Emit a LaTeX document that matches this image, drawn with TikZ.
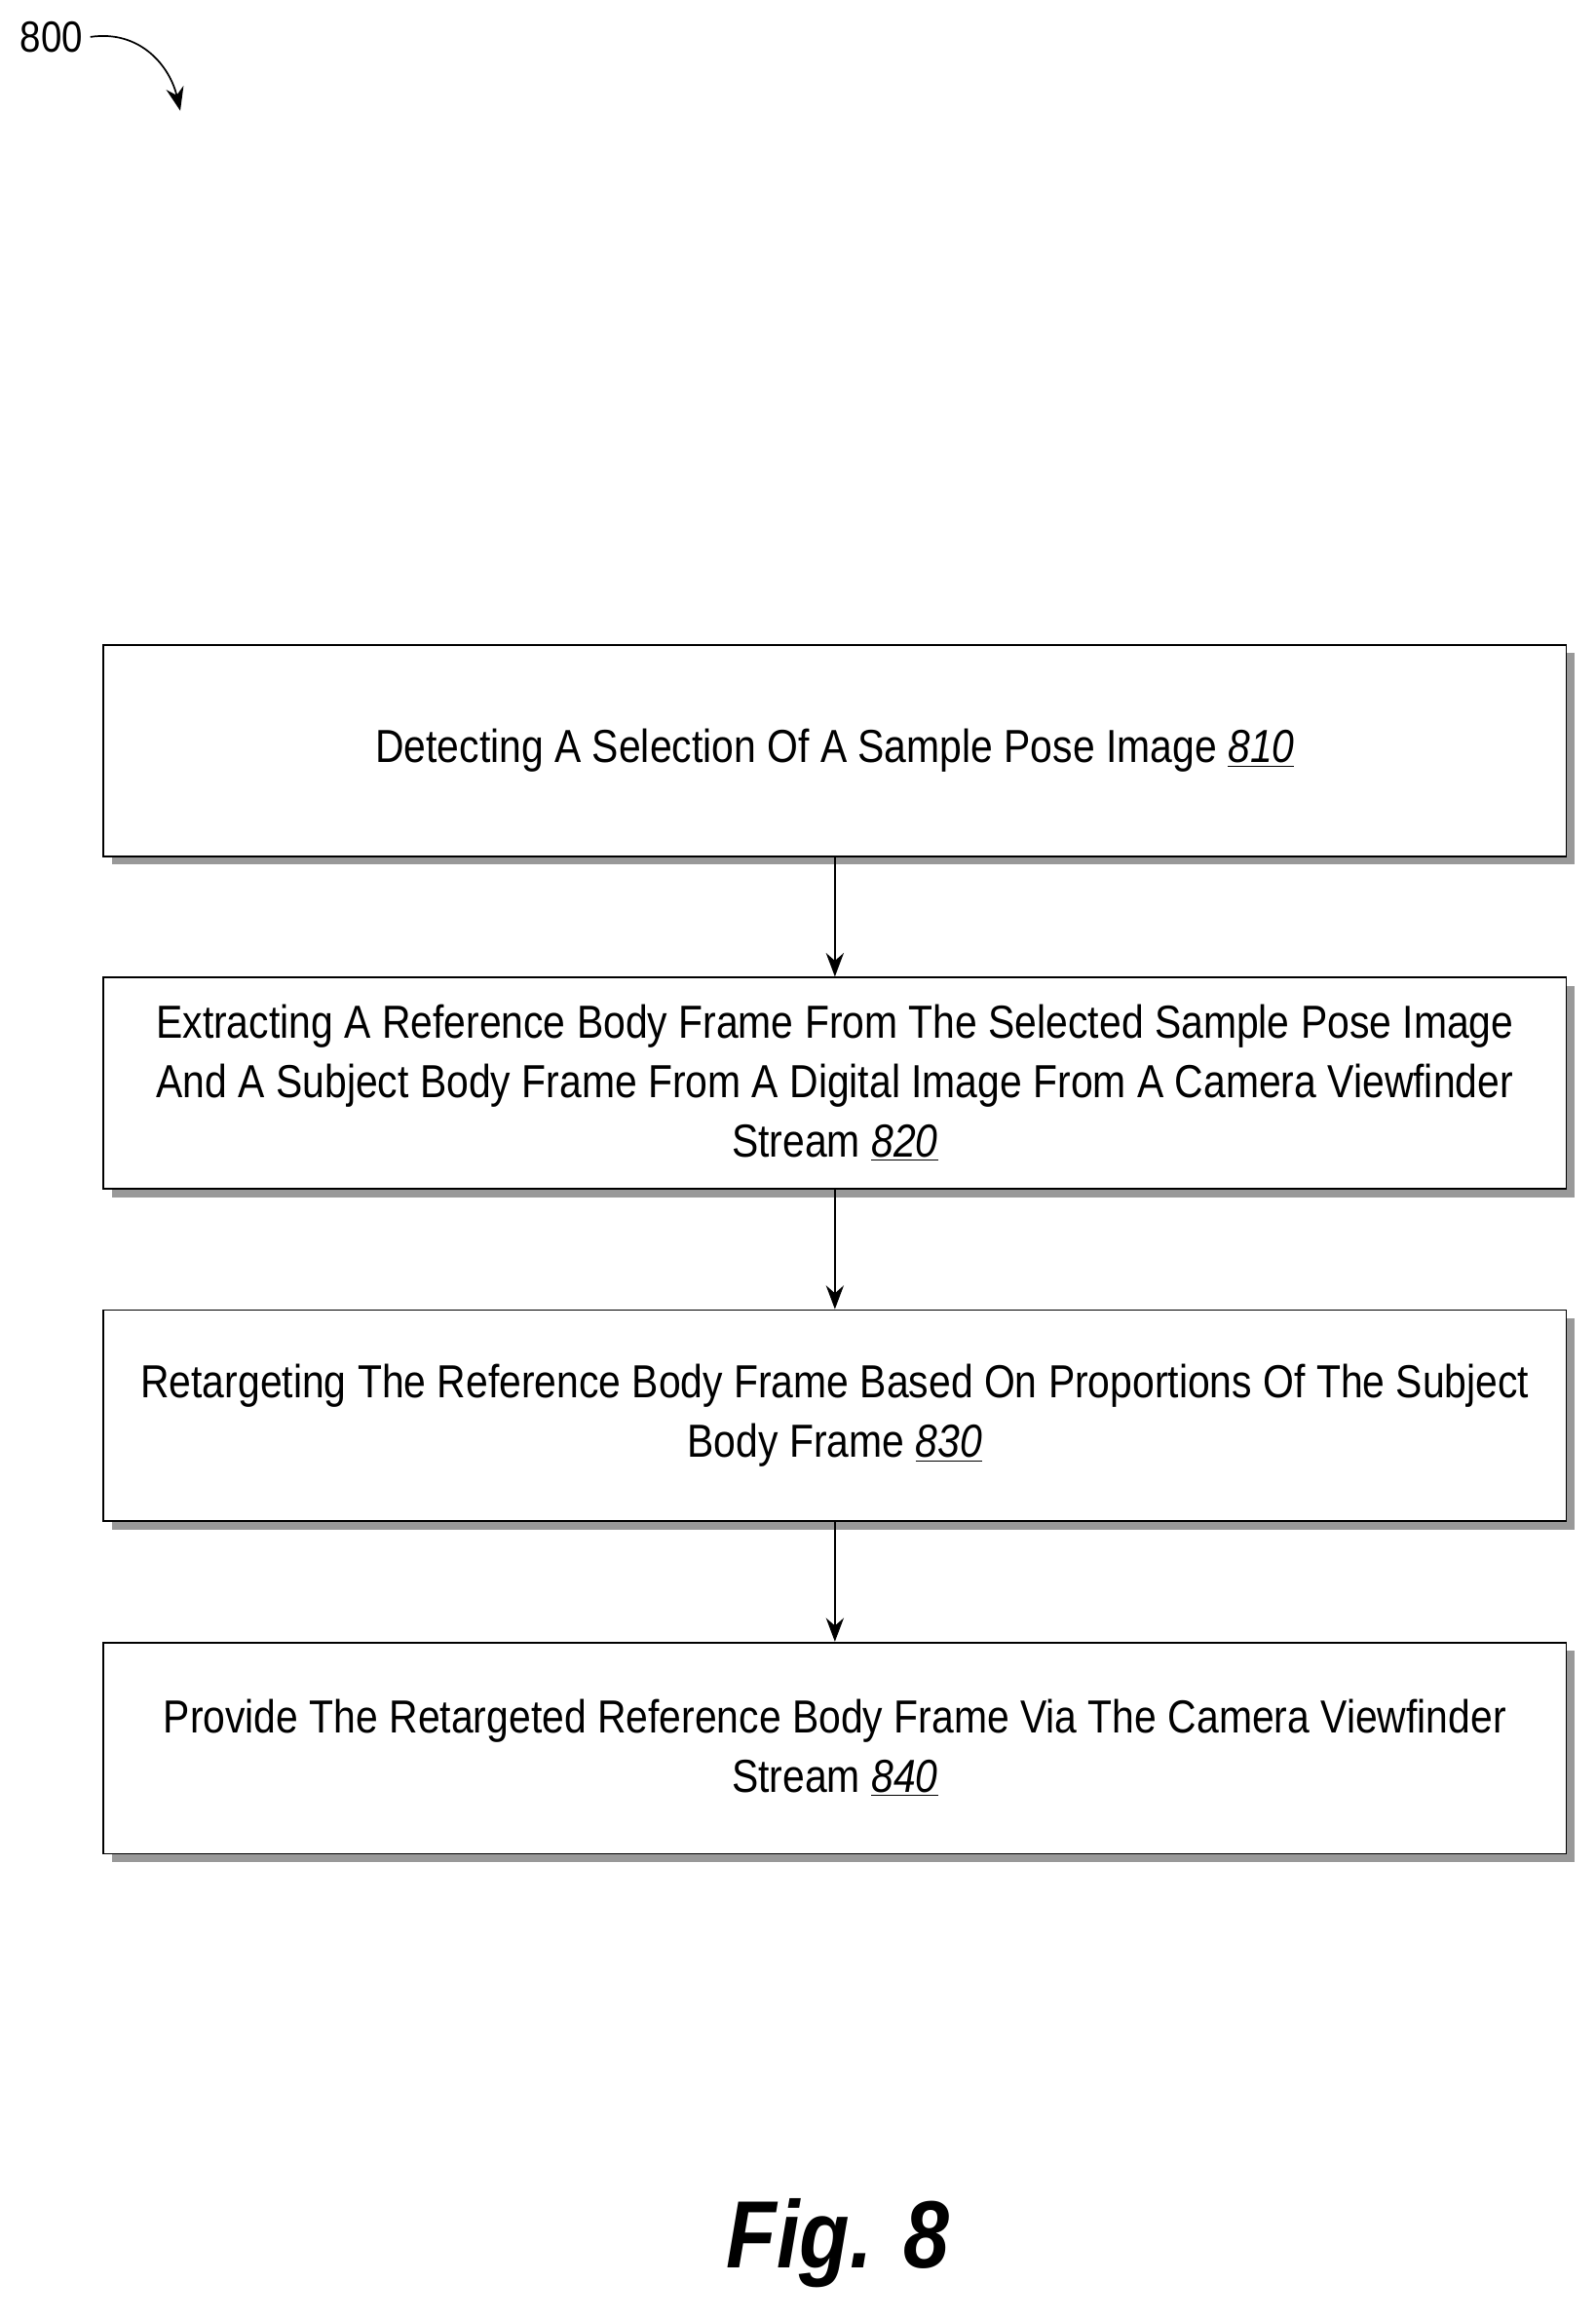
\documentclass[tikz,border=0pt]{standalone}
\usepackage{fontspec}
\setmainfont[FakeStretch=0.86]{Liberation Sans}
\usetikzlibrary{shadows,arrows.meta}

\begin{document}
\begin{tikzpicture}[x=0.25mm, y=-0.25mm,
                    step node/.style={draw, thick, fill=white, minimum width=24.75cm, minimum height=3.575cm,
                                      align=center, font=\fontsize{22.3}{28.5}\selectfont,
                                      drop shadow={shadow xshift=1.4mm, shadow yshift=-1.4mm, fill=gray!80, opacity=1}},
                    flow/.style={thick, -{Stealth[length=4mm, width=3mm]}}]
      \useasboundingbox (0,0) rectangle (1080,1570);

      \node[font=\fontsize{21}{24}\selectfont] (label) at (35,25) {800};
      \coordinate (tip) at (122,75);
      \draw[flow] (label.east) .. controls (95,20) and (115,45) .. (tip);

      \node[step node] (810) at (565,508) {Detecting A Selection Of A Sample Pose Image \underline{\textit{810}}};
      \node[step node] (820) at (565,733) {Extracting A Reference Body Frame From The Selected Sample Pose Image\\And A Subject Body Frame From A Digital Image From A Camera Viewfinder\\Stream \underline{\textit{820}}};
      \node[step node] (830) at (565,958) {Retargeting The Reference Body Frame Based On Proportions Of The Subject\\Body Frame \underline{\textit{830}}};
      \node[step node] (840) at (565,1183) {Provide The Retargeted Reference Body Frame Via The Camera Viewfinder\\Stream \underline{\textit{840}}};

      \draw[flow] (810) -- (820);
      \draw[flow] (820) -- (830);
      \draw[flow] (830) -- (840);

      \node[font=\fontsize{46}{50}\selectfont\bfseries\itshape] (fig) at (567,1518) {Fig. 8};
\end{tikzpicture}
\end{document}
